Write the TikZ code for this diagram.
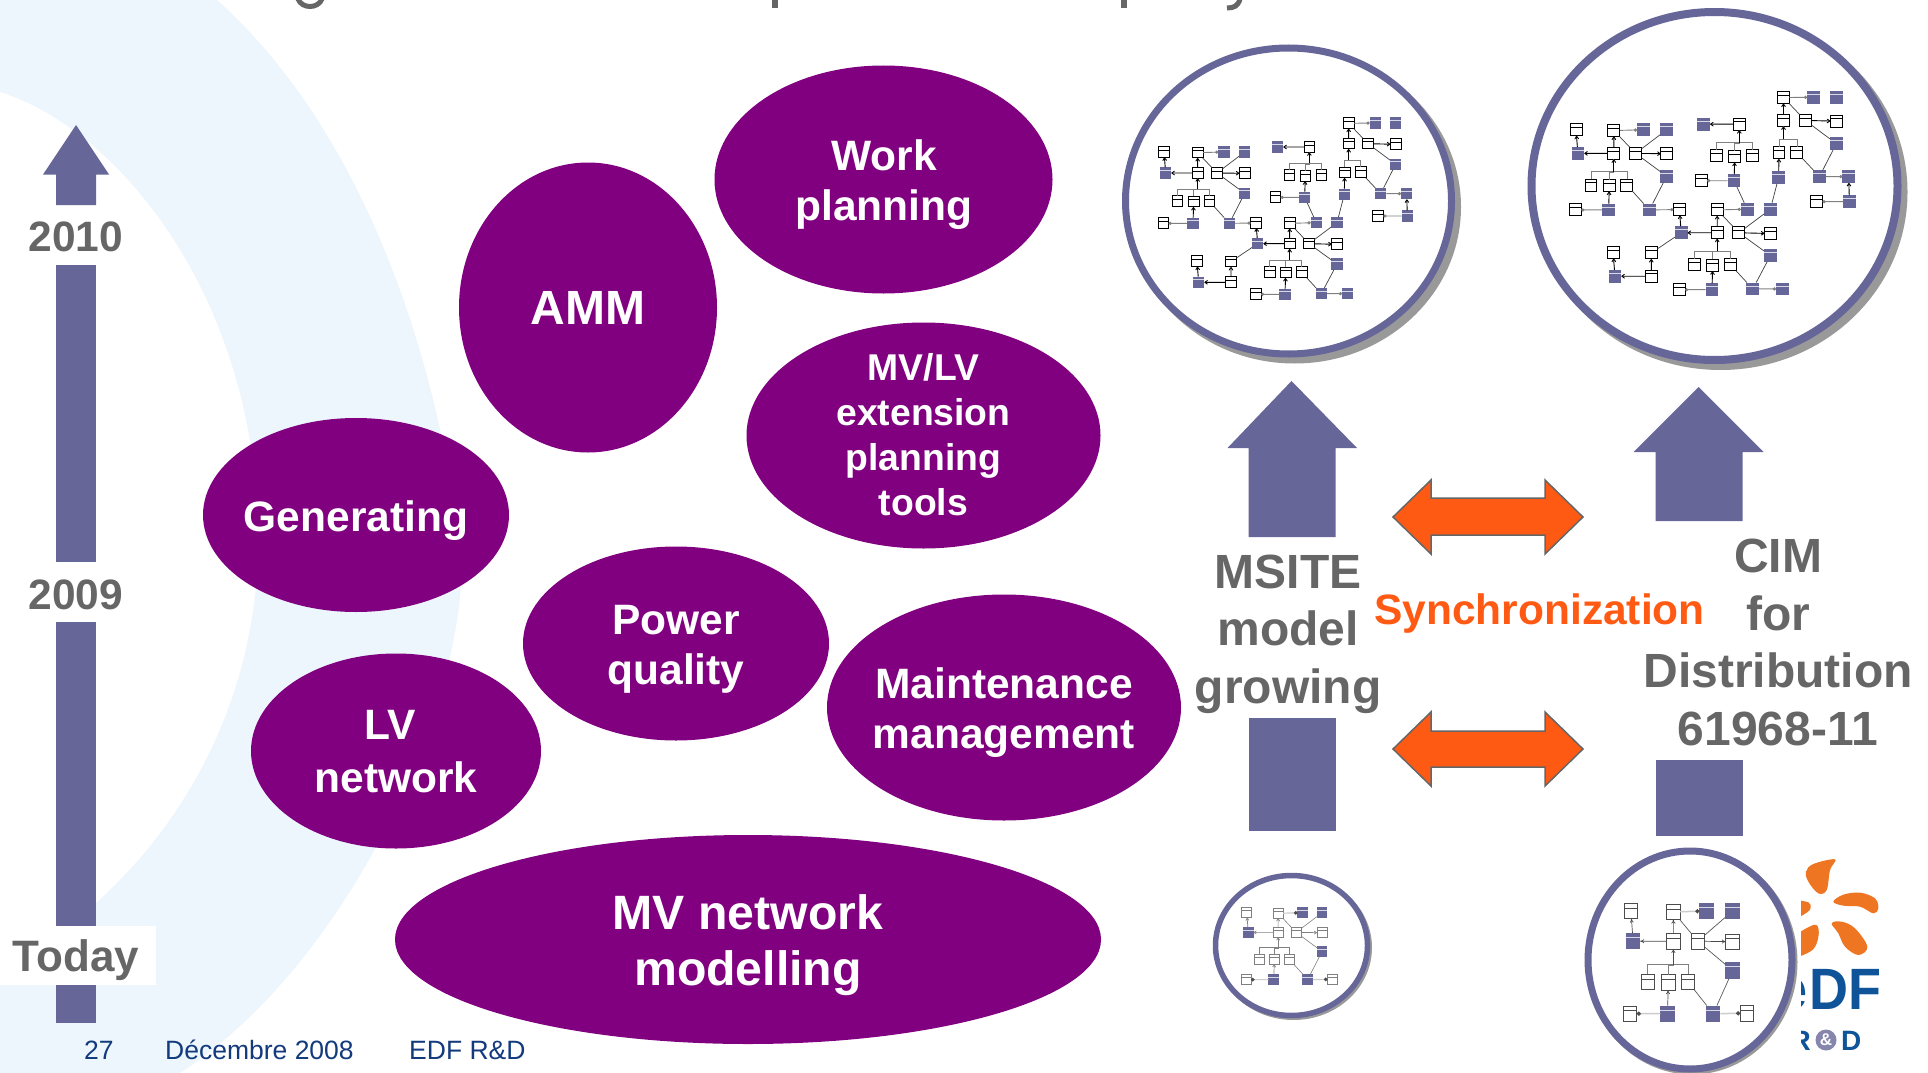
\documentclass[tikz,border=0pt]{standalone}
\usepackage{fontspec}
\setmainfont{Liberation Sans}
\usetikzlibrary{shapes.geometric,arrows.meta,calc}
\definecolor{slate}{HTML}{666699}
\definecolor{plum}{HTML}{800080}
\definecolor{ink}{HTML}{666666}
\definecolor{paleblue}{HTML}{EDF6FD}
\definecolor{flame}{HTML}{FF5A14}
\definecolor{footblue}{HTML}{123A7C}
\definecolor{edfblue}{HTML}{0F5499}
\definecolor{edforange}{HTML}{EE7623}
\definecolor{shadowgray}{HTML}{999999}
\tikzset{
 blob/.style={ellipse,fill=plum,inner sep=0pt,outer sep=0pt},
 blobtext/.style={text=white,align=center,anchor=base,inner sep=0pt,font=\bfseries\fontsize{42.5}{50.5}\selectfont},
 graytext/.style={text=ink,align=center,anchor=base,inner sep=0pt,font=\bfseries\fontsize{48}{57.5}\selectfont},
 yeartext/.style={text=ink,anchor=base,inner sep=0pt,font=\bfseries\fontsize{42.5}{42.5}\selectfont},
 foot/.style={text=footblue,anchor=base west,inner sep=0pt,font=\fontsize{26.5}{26.5}\selectfont},
 ring/.style={ellipse,draw=slate,fill=white,inner sep=0pt,outer sep=0pt},
 ringshadow/.style={ellipse,fill=shadowgray,inner sep=0pt,outer sep=0pt},
 twoway/.style={fill=flame,draw=ink,line width=1.5pt,line join=miter},
 wbox/.style={rectangle,draw=black,fill=white,line width=1pt,minimum width=32pt,minimum height=32pt,inner sep=0pt,outer sep=0pt,transform shape},
 pbox/.style={rectangle,fill=slate,minimum width=34pt,minimum height=34pt,inner sep=0pt,outer sep=0pt,transform shape},
 wline/.style={draw=black,line width=.7pt},
 pline/.style={draw=white!75!slate,line width=.8pt},
 netarr/.style={draw=black,line width=.9pt,-{To[length=3.5pt,width=4.5pt]}},
 netdot/.style={draw=gray,line width=.9pt,-{Circle[length=3.2pt]}},
 netln/.style={draw=black!75,line width=.7pt},
 netbus/.style={draw=gray,line width=.8pt},
}
\newcommand\NetW[3]{\node[wbox] (#1) at (#2,#3) {};\draw[wline] ($(#1.north west)!.3!(#1.south west)$) -- ($(#1.north east)!.3!(#1.south east)$);}
\newcommand\NetP[3]{\node[pbox] (#1) at (#2,#3) {};\draw[pline] ($(#1.north west)!.27!(#1.south west)$) -- ($(#1.north east)!.27!(#1.south east)$);}
\newcommand\NetA[2]{\draw[netarr] (#1) -- (#2);}
\newcommand\NetD[2]{\draw[netdot] (#1) -- (#2);}
\newcommand\NetL[2]{\draw[netln] (#1) -- (#2);}
\newcommand\NetT[2]{\draw[netbus] (#1.north) -- ++(0,-20) -| (#2.south);}
\newcommand\NetS[1]{\draw[netarr] (#1.south) ++(0,33) -- (#1.south);}
% first cluster, used alone in the two small circles
\newcommand\NetOne{%
 \NetW{a1}{192}{456}\NetW{a2}{293}{458}\NetP{a3}{372}{456}\NetP{a4}{434}{456}
 \NetP{a5}{197}{519}\NetW{a6}{293}{519}\NetW{a7}{351}{519}\NetW{a8}{434}{520}
 \NetP{a9}{434}{580}\NetW{a10}{232}{604}\NetW{a11}{281}{605}\NetW{a12}{328}{604}
 \NetW{a13}{190}{670}\NetP{a14}{279}{670}\NetP{a15}{388}{670}\NetW{a16}{468}{669}
 \NetA{a5}{a1}\NetA{a6}{a2}\NetD{a2}{a3}\NetA{a6}{a5}\NetA{a7}{a8}
 \NetL{a2}{a7}\NetL{a7}{a4}\NetL{a7}{a9}\NetL{a9}{a15}\NetL{a12}{a15}
 \NetT{a10}{a6}\NetT{a11}{a6}\NetT{a12}{a6}\NetS{a6}
 \NetA{a14}{a11}\NetD{a14}{a13}\NetD{a15}{a16}}
% the remaining clusters of the two large circles
\newcommand\NetRest{%
 \NetP{b1}{533}{441}\NetW{b2}{628}{441}\NetW{b3}{568}{526}\NetW{b4}{616}{528}\NetW{b5}{664}{526}
 \NetP{b6}{614}{592}\NetW{b7}{526}{592}\NetP{b8}{649}{668}
 \NetA{b2}{b1}\NetT{b3}{b2}\NetT{b4}{b2}\NetT{b5}{b2}\NetS{b2}\NetA{b6}{b4}\NetD{b6}{b7}\NetL{b6}{b8}
 \NetW{c1}{746}{370}\NetP{c2}{826}{369}\NetP{c3}{887}{369}\NetW{c4}{746}{431}\NetW{c5}{804}{431}
 \NetW{c6}{887}{433}\NetP{c7}{887}{493}\NetW{c8}{734}{518}\NetW{c9}{782}{517}\NetP{c10}{733}{583}
 \NetP{c11}{842}{581}\NetP{c12}{920}{581}\NetP{c13}{922}{648}\NetW{c14}{834}{648}\NetP{c15}{711}{668}
 \NetA{c4}{c1}\NetD{c1}{c2}\NetL{c1}{c5}\NetA{c5}{c6}\NetL{c5}{c7}\NetL{c7}{c11}
 \NetT{c8}{c4}\NetT{c9}{c4}\NetS{c4}\NetA{c10}{c8}\NetL{c9}{c11}\NetD{c11}{c12}\NetA{c13}{c12}\NetD{c13}{c14}\NetL{c10}{c15}
 \NetW{d1}{569}{670}\NetP{d2}{473}{731}\NetW{d3}{569}{731}\NetW{d4}{627}{731}\NetW{d5}{711}{733}
 \NetP{d6}{711}{792}\NetW{d7}{509}{817}\NetW{d8}{557}{818}\NetW{d9}{605}{817}\NetP{d10}{555}{883}
 \NetP{d11}{664}{881}\NetP{d12}{743}{881}\NetW{d13}{467}{883}\NetW{d14}{393}{785}\NetW{d15}{393}{847}
 \NetW{d16}{291}{784}\NetP{d17}{296}{847}
 \NetA{d3}{d1}\NetD{d1}{b8}\NetL{d1}{d4}\NetL{d4}{c15}\NetA{d4}{d5}\NetL{d4}{d6}\NetL{d6}{d11}
 \NetA{d3}{d2}\NetT{d7}{d3}\NetT{d8}{d3}\NetT{d9}{d3}\NetS{d3}\NetA{d10}{d8}\NetD{d10}{d13}\NetL{d9}{d11}
 \NetD{d11}{d12}\NetA{d2}{a16}\NetL{d2}{d14}\NetA{d15}{d14}\NetA{d15}{d17}\NetA{d17}{d16}}
\begin{document}
\begin{tikzpicture}[x=1pt,y=-1pt]
\useasboundingbox (0,0) rectangle (1928,1073);
\clip (0,0) rectangle (1928,1073);
% background ring
\fill[paleblue] (0,0) -- (217,0) .. controls (330,100) and (430,290) .. (462,560)
  .. controls (462,720) and (340,970) .. (180,1073) -- (0,1073) -- cycle;
\fill[white] (0,92) .. controls (120,130) and (258,300) .. (258,540)
  .. controls (258,730) and (150,890) .. (0,970) -- cycle;
% cut-off title descenders
\draw[ink,line width=5pt] (298,-1) .. controls (302,9) and (318,9) .. (322,-1);
\fill[ink] (772,0) rectangle (778,8);
\fill[ink] (1121,0) rectangle (1127,8);
\draw[ink,line width=5pt] (1240,-1) .. controls (1238,6) and (1234,8) .. (1227,8);
% time line
\fill[slate] (76,125) -- (109,174.5) -- (96,174.5) -- (96,205) -- (56,205) -- (56,174.5) -- (43,174.5) -- cycle;
\fill[slate] (56,265) rectangle (96,561.5);
\fill[slate] (56,621.5) rectangle (96,1023);
\node[yeartext] (y2010) at (76,251) {2010};
\node[yeartext] (y2009) at (76,609) {2009};
\fill[white] (0,926) rectangle (156,985);
\node[yeartext,font=\bfseries\fontsize{44}{44}\selectfont] (ytoday) at (76,971) {Today};
% footer
\node[foot] (fnum) at (84,1059) {27};
\node[foot] (fdate) at (165,1059) {Décembre 2008};
\node[foot] (forg) at (409,1059) {EDF R\&D};
% domains
\node[blob,minimum width=338pt,minimum height=228pt] (work) at (883.5,179.5) {};
\node[blob,minimum width=258pt,minimum height=290pt] (amm) at (588,307.5) {};
\node[blob,minimum width=354pt,minimum height=226pt] (mvlv) at (923.5,435.5) {};
\node[blob,minimum width=306pt,minimum height=194pt] (gen) at (356,515) {};
\node[blob,minimum width=290pt,minimum height=195pt] (lv) at (396,751) {};
\node[blob,minimum width=306pt,minimum height=194pt] (pq) at (676,643.5) {};
\node[blob,minimum width=354pt,minimum height=226pt] (maint) at (1004,707.5) {};
\node[blob,minimum width=706pt,minimum height=209pt] (mv) at (748,939.5) {};
\node[blobtext] (tw) at (884,220.5) {Work\\planning};
\node[blobtext,font=\bfseries\fontsize{48}{48}\selectfont] (ta) at (588,324) {AMM};
\node[blobtext,font=\bfseries\fontsize{37.3}{45}\selectfont] (tm) at (923.5,515.5) {MV/LV\\extension\\planning\\tools};
\node[blobtext] (tg) at (356,531) {Generating};
\node[blobtext,font=\bfseries\fontsize{42.5}{52.5}\selectfont] (tl) at (396,792) {LV\kern12pt\\network};
\node[blobtext] (tp) at (676,684.5) {Power\\quality};
\node[blobtext] (tn) at (1004,748.5) {Maintenance\\management};
\node[blobtext,font=\bfseries\fontsize{48.2}{56.5}\selectfont] (tv) at (748,985.5) {MV network\\modelling};
% growth arrows
\fill[slate] (1291.5,381) -- (1357,448) -- (1335.5,448) -- (1335.5,537) -- (1248.5,537) -- (1248.5,448) -- (1227.5,448) -- cycle;
\fill[slate] (1248.5,718) rectangle (1335.5,831);
\fill[slate] (1698.5,387) -- (1763.5,452) -- (1742.5,452) -- (1742.5,521) -- (1655.5,521) -- (1655.5,452) -- (1633.5,452) -- cycle;
\fill[slate] (1655.5,760) rectangle (1742.5,836);
% synchronisation arrows
\draw[twoway] (1393,517) -- (1431,480) -- (1431,498) -- (1545,498) -- (1545,480) -- (1583,517) -- (1545,554) -- (1545,535) -- (1431,535) -- (1431,554) -- cycle;
\draw[twoway] (1393,749) -- (1431,712) -- (1431,731) -- (1545,731) -- (1545,712) -- (1583,749) -- (1545,786) -- (1545,767) -- (1431,767) -- (1431,786) -- cycle;
% labels
\node[graytext] (lm) at (1288,703) {MSITE\\model\\growing};
\node[graytext] (lc) at (1778,745) {CIM\\for\\Distribution\\61968-11};
\node[anchor=base,inner sep=0pt,text=flame,font=\bfseries\fontsize{42.5}{42.5}\selectfont] (ls) at (1539.5,624) {Synchronization};
% model circles
\node[ringshadow,minimum width=333pt,minimum height=313pt] (s1) at (1294.5,207) {};
\node[ring,line width=7pt,minimum width=326pt,minimum height=306pt] (r1) at (1288.5,201) {};
\node[ringshadow,minimum width=374pt,minimum height=356pt] (s2) at (1720.5,192) {};
\node[ring,line width=8pt,minimum width=366pt,minimum height=348pt] (r2) at (1714.5,186) {};
\node[ringshadow,minimum width=157pt,minimum height=145pt] (s3) at (1293.5,947.5) {};
\node[ring,line width=5.5pt,minimum width=152pt,minimum height=140pt] (r3) at (1291.5,945.5) {};
\node[ringshadow,minimum width=211pt,minimum height=225pt] (s4) at (1692,962) {};
\node[ring,line width=7pt,minimum width=204pt,minimum height=218pt] (r4) at (1690,960) {};
\begin{scope}[shift={(1100,0)},scale=1/3]\NetOne\NetRest\end{scope}
\begin{scope}[shift={(1504.1,-41)},scale=.3745]\NetOne\NetRest\end{scope}
\begin{scope}[shift={(1187,770.1)},xscale=.311,yscale=.3127,
  wbox/.append style={draw=gray,line width=.7pt},wline/.style={draw=gray,line width=.5pt},
  netln/.style={draw=gray,line width=.6pt},netarr/.style={draw=gray,line width=.7pt,-{To[length=3pt,width=3.5pt]}},
  netdot/.style={draw=black!20,line width=1.2pt,-{Circle[length=3.5pt,black!70]}},netbus/.style={draw=gray,line width=.6pt}]\NetOne\end{scope}
\begin{scope}[shift={(1550.3,692.1)},xscale=.42,yscale=.48,
  wbox/.append style={draw=black!70,line width=.8pt},wline/.style={draw=black!70,line width=.6pt},
  netln/.style={draw=black!65,line width=.7pt},netarr/.style={draw=black!70,line width=.7pt,-{To[length=4pt,width=4pt]}},
  netdot/.style={draw=black!20,line width=1.5pt,-{Circle[length=4pt,black!70]}},netbus/.style={draw=gray,line width=.6pt}]\NetOne\end{scope}
% logo, cut at its left edge
\begin{scope}
\clip (1801,855) rectangle (1890,1052);
\begin{scope}[shift={(1780,840)},scale=1/3]
\fill[edforange] plot[smooth cycle,tension=.6] coordinates {(100,72) (165,58) (150,90) (140,150) (115,160) (85,125) (78,95)};
\fill[edforange] plot[smooth cycle,tension=.6] coordinates {(40,185) (85,187) (92,203) (80,218) (40,235)};
\fill[edforange] plot[smooth cycle,tension=.6] coordinates {(160,185) (190,164) (240,158) (285,175) (295,205) (280,220) (240,200) (190,197)};
\fill[edforange] plot[smooth cycle,tension=.6] coordinates {(155,250) (185,245) (225,265) (262,320) (235,345) (195,320) (175,280)};
\fill[edforange] plot[smooth cycle,tension=.6] coordinates {(40,295) (100,255) (116,270) (110,310) (90,335) (40,350)};
\end{scope}
\node[anchor=base east,inner sep=0pt,text=edfblue,font=\bfseries\fontsize{54}{54}\selectfont] (loge) at (1808,1009) {\scalebox{1}[1.08]{e}};
\node[anchor=base west,inner sep=0pt,text=edfblue,font=\bfseries\fontsize{54}{54}\selectfont] (logdf) at (1809,1009) {\scalebox{1}[1.08]{DF}};
\node[anchor=base east,inner sep=0pt,text=edfblue,font=\bfseries\fontsize{28}{28}\selectfont] (logr) at (1811,1050) {R};
\node[circle,fill=slate!80!white,minimum size=21pt,inner sep=0pt] (logc) at (1826,1040) {};
\node[inner sep=0pt,text=white,font=\bfseries\fontsize{17}{17}\selectfont] (loga) at (logc) {\&};
\node[anchor=base west,inner sep=0pt,text=edfblue,font=\bfseries\fontsize{28}{28}\selectfont] (logd) at (1841,1050) {D};
\end{scope}
\end{tikzpicture}
\end{document}
